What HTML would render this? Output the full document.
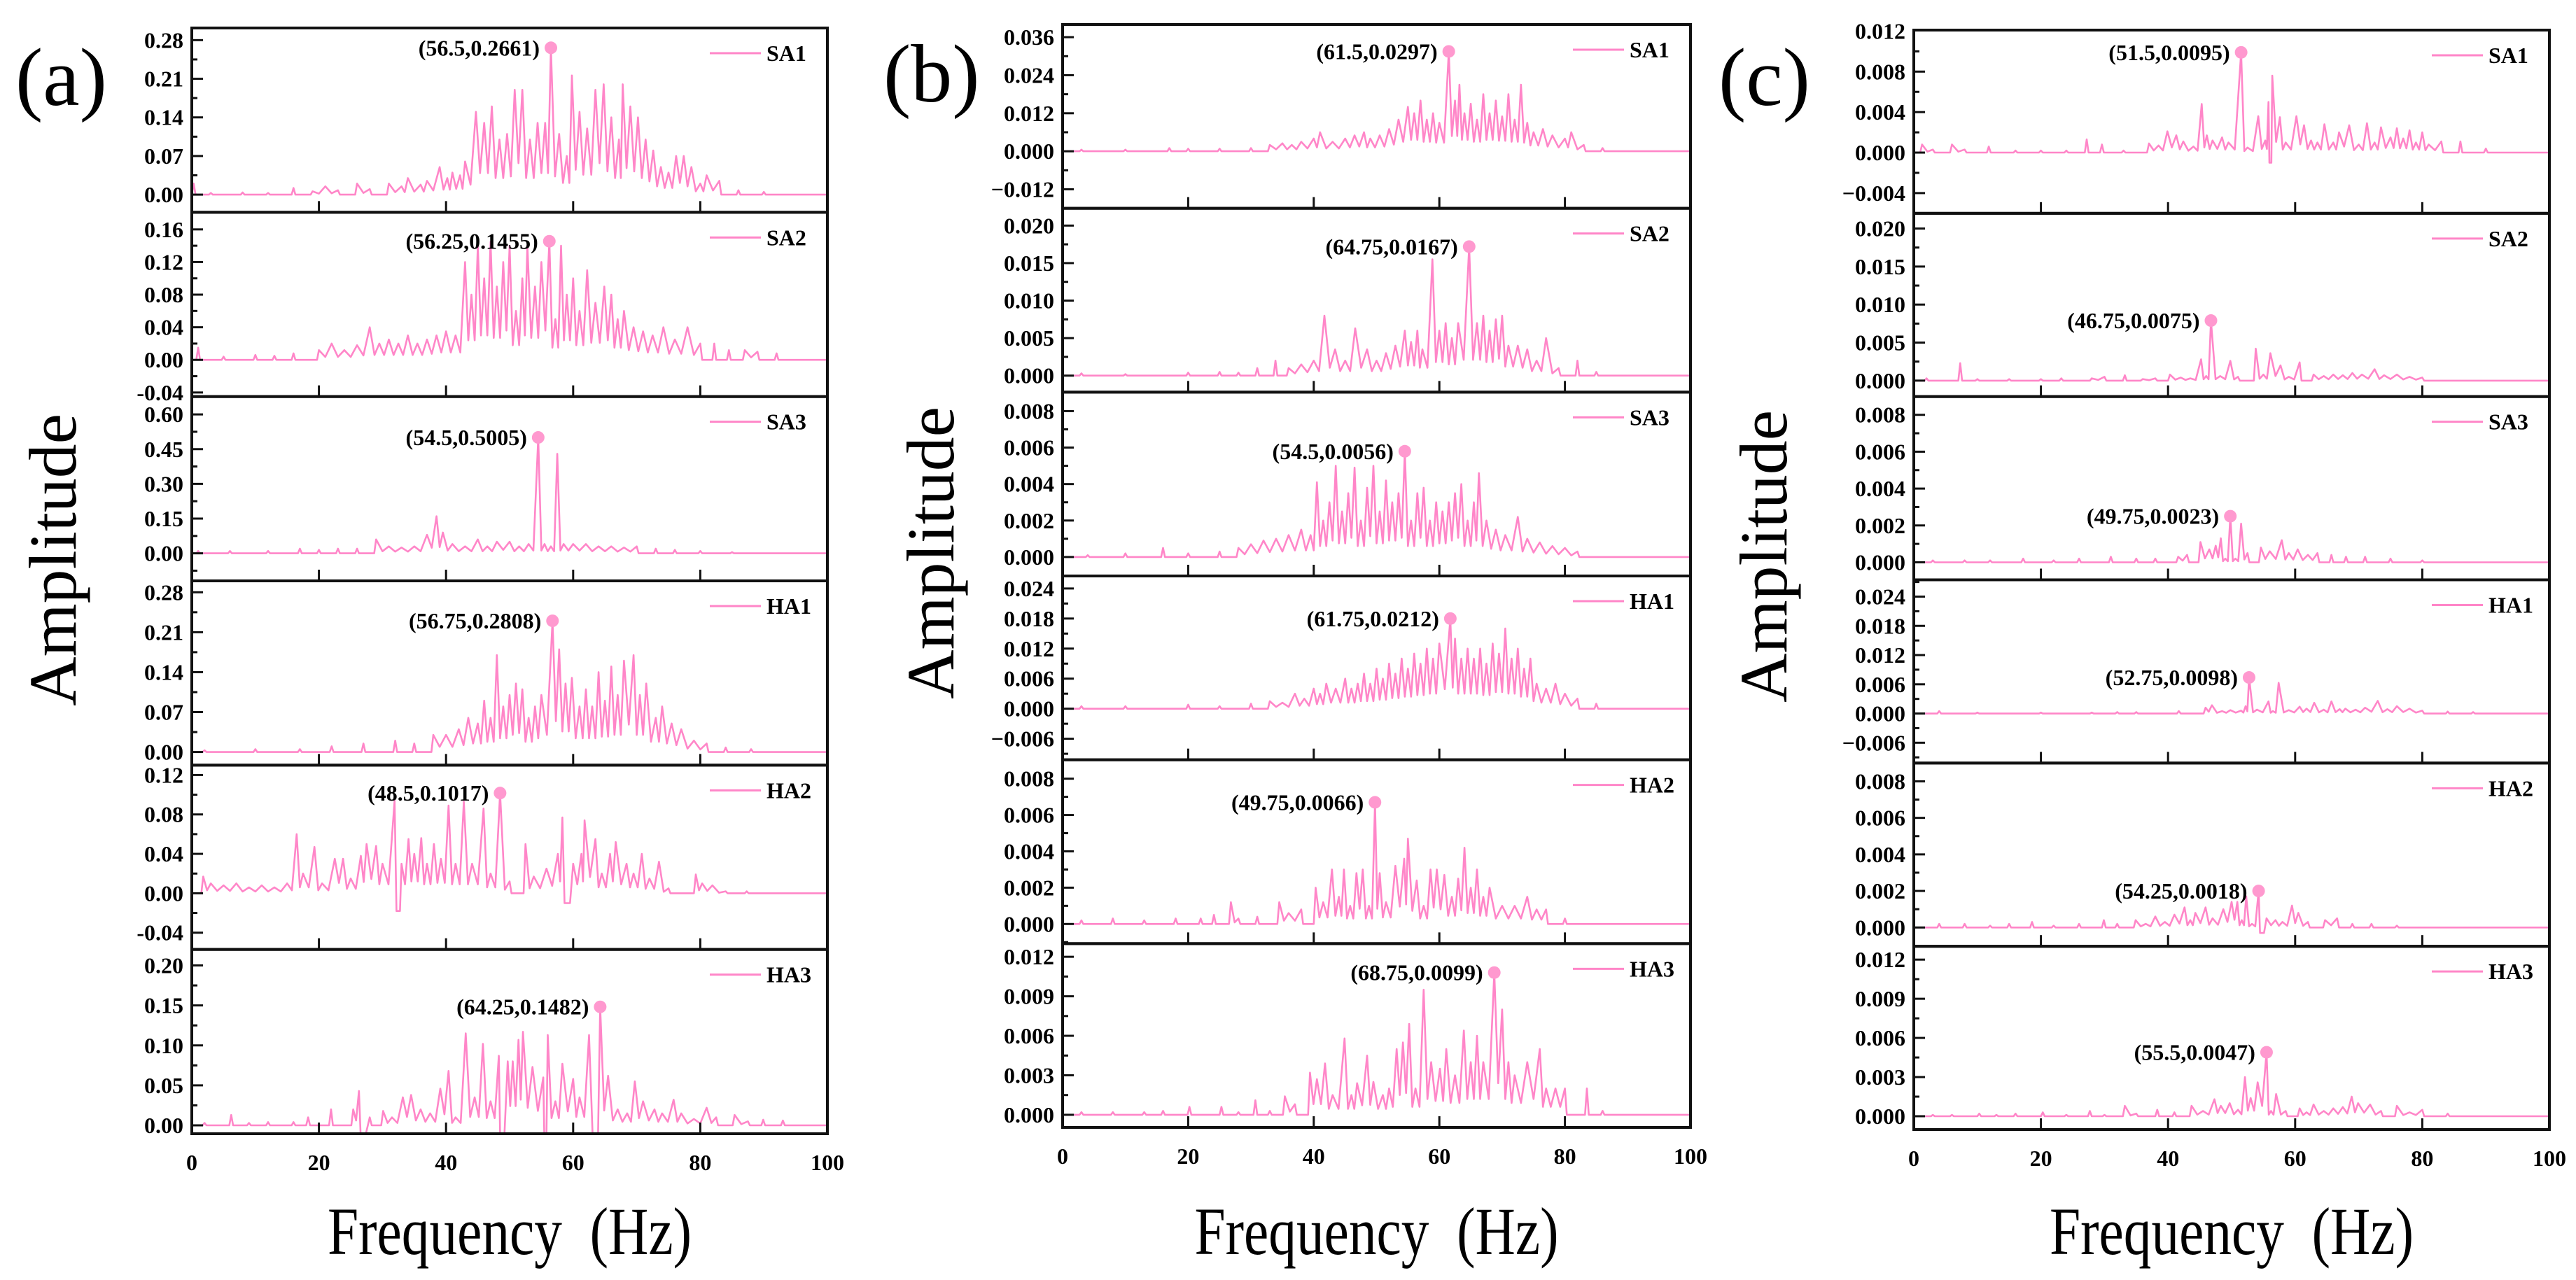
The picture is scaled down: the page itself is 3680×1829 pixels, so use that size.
<!DOCTYPE html>
<html><head><meta charset="utf-8"><title>Frequency spectra</title>
<style>
html,body{margin:0;padding:0;background:#fff;}
svg{display:block;font-family:"Liberation Serif",serif;}
</style></head>
<body>
<svg id="fig" xmlns="http://www.w3.org/2000/svg" width="3680" height="1829" viewBox="0 0 3680 1829"></svg>
<script>
// ---------------- DATA: panel (a) ----------------
const a_SA1 = [[0.3,0.02],[3,0.003],[8,0.004],[12,0.003],[16,0.012],[19,0.006],[21,0.015],[23,0.008],[26,0.02],[28,0.01],[31,0.02],[33,0.015],[34,0.03],[36,0.018],[37,0.025],[39,0.05],[40.2,0.03],[41,0.04],[42.2,0.035],[43,0.06],[44.7,0.15],[46,0.13],[47.2,0.16],[48.4,0.1],[49.6,0.11],[50.8,0.19],[52,0.19],[53.2,0.1],[54.4,0.13],[55.6,0.13],[56.5,0.2661],[57.8,0.11],[59,0.07],[59.8,0.216],[61,0.15],[62.2,0.12],[63.5,0.19],[64.8,0.2],[66,0.14],[67.2,0.1],[67.8,0.2],[69,0.16],[70.2,0.14],[71.4,0.1],[72.6,0.08],[73.8,0.05],[75,0.04],[76.2,0.07],[77.4,0.07],[78.6,0.05],[80,0.02],[81,0.035],[83,0.025],[86,0.008],[90,0.005]];
const a_SA2 = [[1,0.015],[5,0.004],[10,0.006],[13,0.005],[16,0.008],[20,0.012],[22,0.02],[24,0.012],[26,0.018],[28,0.04],[29.5,0.02],[31,0.025],[32.5,0.02],[34,0.03],[35.5,0.02],[37,0.025],[38.5,0.03],[40,0.035],[41.5,0.03],[43,0.12],[44,0.08],[45,0.14],[46,0.1],[47,0.145],[48,0.09],[49,0.12],[50,0.14],[51,0.06],[52,0.1],[52.8,0.14],[54,0.09],[55,0.12],[56.25,0.1455],[57.2,0.05],[58.1,0.14],[59,0.08],[60,0.1],[61,0.06],[62.2,0.11],[63.5,0.07],[64.9,0.09],[66,0.08],[67,0.05],[68,0.06],[69.5,0.04],[71,0.035],[72.5,0.03],[74.2,0.04],[76,0.025],[78,0.04],[80,0.02],[82.2,0.02],[84.5,0.012],[87,0.012],[89,0.01],[92,0.008]];
const a_SA3 = [[1,0.01],[6,0.01],[12,0.01],[17,0.02],[20,0.015],[23,0.02],[26,0.02],[29,0.06],[31,0.03],[33,0.025],[35,0.03],[37,0.08],[38.5,0.16],[39.5,0.09],[41,0.04],[43,0.03],[45,0.06],[46.5,0.03],[48,0.05],[50,0.05],[51.5,0.03],[53,0.04],[54.5,0.5005],[55.5,0.04],[56.5,0.03],[57.5,0.43],[58.5,0.04],[60,0.04],[62,0.04],[64,0.03],[66,0.03],[68,0.025],[70,0.03],[73,0.02],[76,0.015],[80,0.01],[85,0.005]];
const a_HA1 = [[2,0.003],[10,0.005],[17,0.005],[22,0.01],[27,0.015],[32,0.02],[35,0.015],[38,0.03],[40,0.03],[42,0.04],[43.5,0.06],[45,0.05],[46,0.09],[47,0.06],[48,0.17],[49,0.08],[50,0.1],[51,0.12],[52,0.11],[53,0.06],[54,0.08],[55,0.1],[56.75,0.23],[57.8,0.18],[58.8,0.12],[59.8,0.13],[61,0.08],[62,0.11],[63,0.08],[64,0.14],[65,0.09],[66,0.15],[67,0.1],[68,0.16],[69.5,0.17],[70.5,0.1],[71.5,0.12],[73,0.06],[74,0.08],[75.5,0.05],[77,0.04],[79,0.02],[81,0.015],[84,0.008],[88,0.005]];
const a_HA2 = [[1.8,0.017],[3,0.01],[5,0.008],[7,0.01],[9,0.006],[11,0.008],[13,0.006],[15,0.01],[16.5,0.06],[17.5,0.02],[19.3,0.047],[20.5,0.01],[22.5,0.035],[23.8,0.035],[25,0.015],[26.6,0.038],[27.5,0.05],[29,0.048],[30,0.03],[31.9,0.094],[32.5,-0.018],[33,0.03],[34.1,0.055],[35,0.04],[36.1,0.056],[37,0.03],[38.1,0.05],[39.2,0.035],[40.4,0.089],[41.5,0.03],[42.8,0.093],[44.1,0.03],[45.9,0.086],[47,0.02],[48.5,0.1017],[50,0.012],[52.5,0.05],[53.8,0.017],[55.8,0.025],[57.6,0.04],[58.3,0.077],[59,-0.01],[60,0.03],[61.3,0.04],[61.8,0.074],[63.5,0.055],[64.5,0.02],[65.8,0.04],[66.7,0.052],[68.4,0.03],[69.5,0.02],[70.8,0.04],[72,0.015],[73.5,0.032],[75,0.005],[79.3,0.019],[80.3,0.01],[81.9,0.008],[84,0.002],[87.3,0.002]];
const a_HA3 = [[2,0.003],[6.2,0.013],[9,0.003],[12,0.004],[16,0.004],[18.3,0.01],[21.9,0.02],[25.4,0.02],[26.3,0.043],[26.8,-0.01],[28,0.01],[30.1,0.018],[31.5,0.01],[33.2,0.035],[34.5,0.038],[36,0.02],[37.5,0.015],[39.1,0.046],[40.4,0.068],[41.5,0.01],[43.1,0.115],[44.5,0.035],[45.8,0.102],[47,0.03],[48.3,0.087],[48.7,-0.01],[49.7,0.08],[50.5,0.08],[51.4,0.107],[52.1,0.117],[53.6,0.073],[55.3,0.06],[55.6,-0.01],[56,0.113],[57.2,0.03],[58.3,0.077],[60,0.058],[61,0.035],[62.5,0.113],[63.6,-0.01],[64.25,0.1482],[65.5,0.062],[67,0.02],[68.5,0.015],[69.7,0.055],[71,0.03],[72.8,0.02],[74,0.015],[75.8,0.032],[77,0.015],[79,0.008],[81,0.022],[82.5,0.01],[85.4,0.013],[87.5,0.005],[89.9,0.007],[93,0.006]];
const annoFreqA = [56.5, 56.25, 54.5, 56.75, 48.5, 64.25];
const annoAmpA = ["0.2661", "0.1455", "0.5005", "0.2808", "0.1017", "0.1482"];
const ticksA = [[0,0.07,0.14,0.21,0.28],[-0.04,0,0.04,0.08,0.12,0.16],[0,0.15,0.3,0.45,0.6],[0,0.07,0.14,0.21,0.28],[-0.04,0,0.04,0.08,0.12],[0,0.05,0.1,0.15,0.2]];
const rangeA = [[-0.032,0.302],[-0.045,0.181],[-0.119,0.677],[-0.023,0.30],[-0.057,0.13],[-0.0105,0.22]];

// ---------------- DATA: panel (b) ----------------
const b_SA1 = [[3,0.0005],[10,0.0005],[17,0.001],[20,0.0008],[25,0.0008],[30,0.001],[33,0.002],[35,0.0025],[36.5,0.002],[38,0.003],[40,0.004],[41,0.006],[43,0.003],[45,0.004],[46.5,0.005],[48,0.006],[49,0.004],[50.5,0.005],[52,0.007],[53.5,0.01],[55,0.014],[56,0.012],[57,0.016],[58,0.01],[59,0.012],[60,0.009],[61.5,0.0315],[62.5,0.016],[63.2,0.021],[64,0.012],[65,0.015],[66,0.01],[67,0.018],[68,0.012],[69,0.016],[70,0.011],[71,0.018],[72,0.01],[73,0.021],[74,0.009],[75,0.006],[76.5,0.007],[78,0.005],[80,0.004],[81,0.006],[83,0.002],[86,0.001]];
const b_SA2 = [[3,0.0003],[10,0.0002],[20,0.0004],[25,0.0005],[28,0.0004],[31,0.001],[33.9,0.002],[36,0.001],[38,0.0015],[40,0.002],[41.7,0.008],[43.4,0.0035],[45,0.002],[46.6,0.0063],[48.5,0.0035],[50,0.002],[51.5,0.003],[53,0.004],[54.5,0.006],[55.5,0.0045],[56.5,0.006],[57.3,0.0035],[58.9,0.0155],[60,0.006],[61,0.007],[62,0.005],[63,0.007],[64.75,0.0172],[66,0.007],[67,0.008],[68,0.006],[69,0.0075],[70,0.008],[71,0.004],[72.5,0.004],[74,0.0035],[75.5,0.002],[77,0.005],[79,0.001],[82,0.002],[85,0.0005]];
const b_SA3 = [[4,0.0001],[10,0.0002],[16,0.0005],[20,0.0002],[25,0.0003],[28,0.0005],[30,0.0007],[32,0.0009],[34,0.001],[36,0.0012],[38,0.0015],[39.5,0.0012],[40.5,0.0041],[41.5,0.002],[42.5,0.003],[43.5,0.005],[44.5,0.0025],[45.5,0.0035],[46.5,0.0049],[47.5,0.002],[48.5,0.0038],[49.5,0.005],[50.5,0.0025],[51.5,0.0042],[52.5,0.003],[53.5,0.0035],[54.5,0.0058],[55.5,0.002],[56.5,0.0035],[57.5,0.0038],[58.5,0.002],[59.5,0.003],[60.5,0.0025],[61.5,0.003],[62.5,0.0035],[63.5,0.004],[64.5,0.002],[65.5,0.003],[66.3,0.0046],[67.5,0.002],[69,0.0015],[70.5,0.0012],[72.5,0.0022],[74,0.001],[76,0.0008],[78,0.0006],[80,0.0005],[82,0.0003]];
const b_HA1 = [[3,0.0005],[10,0.0005],[20,0.0008],[25,0.0005],[30,0.001],[33,0.0015],[35,0.0012],[37,0.003],[38.5,0.002],[40,0.004],[41,0.003],[42,0.005],[43.5,0.004],[45,0.006],[46,0.004],[47,0.005],[48,0.007],[49,0.005],[50,0.008],[51,0.006],[52,0.009],[53,0.007],[54,0.01],[55,0.008],[56,0.011],[57,0.009],[58,0.012],[59,0.01],[60,0.013],[61.75,0.018],[62.5,0.014],[63.5,0.01],[64.5,0.012],[65.5,0.01],[66.5,0.012],[67.5,0.009],[68.5,0.013],[69.5,0.011],[70.5,0.016],[71.5,0.01],[72.5,0.012],[73.5,0.008],[74.5,0.01],[75.5,0.005],[77,0.004],[78.5,0.005],[80,0.003],[82,0.002],[85,0.001]];
const b_HA2 = [[3,0.0002],[8,0.0003],[13,0.0002],[18,0.0003],[22,0.0003],[24.1,0.0005],[26.8,0.0012],[28,0.0003],[31,0.0004],[34.5,0.0012],[36,0.0006],[38,0.0008],[40.3,0.002],[41.5,0.0012],[42.9,0.003],[44,0.0015],[44.8,0.003],[45.8,0.001],[46.8,0.0028],[47.8,0.003],[48.8,0.001],[49.75,0.0067],[50.5,0.0028],[51.5,0.0012],[53,0.0032],[54.4,0.0036],[55,0.0047],[56.4,0.0024],[57.5,0.001],[58.6,0.003],[59.6,0.003],[60.8,0.0027],[62,0.0015],[63,0.0025],[64,0.0042],[65,0.002],[66,0.003],[67,0.0015],[68,0.002],[70,0.001],[72,0.001],[74,0.0015],[75.5,0.0008],[77,0.0008],[80,0.0003]];
const b_HA3 = [[3,0.0002],[8,0.0002],[13,0.0002],[16,0.0003],[20.2,0.0006],[25.3,0.0006],[28,0.0002],[30.7,0.0011],[33,0.0003],[35.4,0.0014],[37,0.0008],[39.4,0.0032],[40.5,0.0027],[41.8,0.0039],[43,0.0015],[44.9,0.0058],[46,0.0015],[46.9,0.0024],[48.5,0.0045],[49.5,0.0025],[51,0.0015],[52,0.002],[53.2,0.005],[54.2,0.0055],[55.2,0.0069],[56.2,0.002],[57.5,0.0095],[58.7,0.004],[60.1,0.0035],[61.1,0.005],[62.5,0.003],[63.9,0.0064],[65,0.004],[66,0.006],[67,0.004],[68.75,0.0108],[70,0.008],[71,0.004],[72,0.003],[74,0.004],[76,0.005],[77,0.002],[78.5,0.002],[80,0.002],[83.5,0.002],[86,0.0003]];
const annoFreqB = [61.5, 64.75, 54.5, 61.75, 49.75, 68.75];
const annoAmpB = ["0.0297", "0.0167", "0.0056", "0.0212", "0.0066", "0.0099"];
const ticksB = [[-0.012,0,0.012,0.024,0.036],[0,0.005,0.01,0.015,0.02],[0,0.002,0.004,0.006,0.008],[-0.006,0,0.006,0.012,0.018,0.024],[0,0.002,0.004,0.006,0.008],[0,0.003,0.006,0.009,0.012]];
const rangeB = [[-0.018,0.040],[-0.0022,0.0223],[-0.00104,0.00904],[-0.0102,0.0265],[-0.00108,0.00904],[-0.00096,0.0130]];

// ---------------- DATA: panel (c) ----------------
const c_SA1 = [[1.3,0.0008],[3,0.0003],[6,0.0008],[8,0.0003],[11.8,0.0006],[16,0.0002],[20,0.0002],[24,0.0002],[27.2,0.0013],[29.6,0.0008],[33,0.0002],[37,0.0009],[38.5,0.0007],[39.9,0.0021],[41.3,0.0017],[42.4,0.0011],[44,0.0006],[45.3,0.0048],[46.1,0.0017],[47,0.0012],[48.5,0.0015],[49.5,0.001],[51.5,0.0099],[52.5,0.0005],[54.2,0.0036],[55.3,0.0012],[55.8,0.005],[56.1,-0.001],[56.4,0.0076],[57.6,0.0035],[58.5,0.001],[60.2,0.0036],[61.4,0.0027],[62.5,0.0012],[63.5,0.001],[64.6,0.0028],[66,0.001],[66.9,0.002],[68.5,0.0027],[70,0.0008],[71.3,0.0029],[72.5,0.001],[73.5,0.0025],[75,0.0015],[76,0.0024],[77,0.0014],[78,0.0022],[79,0.001],[80,0.002],[81,0.0008],[83,0.0011],[86,0.0011],[90,0.0004]];
const c_SA2 = [[2,0.0003],[7.3,0.0023],[10,0.0002],[15,0.0002],[20,0.0002],[23.2,0.0003],[28,0.0003],[30,0.0005],[33.2,0.0007],[36,0.0002],[38,0.0003],[40.3,0.0008],[42,0.0004],[43.5,0.0003],[45.2,0.0028],[46,0.0006],[46.75,0.0079],[48.2,0.0006],[49.8,0.0026],[51,0.0005],[53.8,0.0042],[55,0.0008],[56.1,0.0036],[57.7,0.002],[59,0.0005],[60.7,0.0024],[62.9,0.0008],[64.5,0.0006],[66,0.0008],[67.5,0.0007],[69,0.001],[70.5,0.0008],[72.5,0.0015],[74,0.0007],[76,0.0008],[78,0.0005],[80,0.0004]];
const c_SA3 = [[3,0.0001],[8,0.0001],[12,0.0001],[17.2,0.0002],[22,0.0001],[26,0.0002],[31,0.0003],[35,0.0002],[38,0.0002],[41.6,0.0003],[43,0.0004],[45.1,0.0011],[46.5,0.0007],[47.5,0.0009],[48.3,0.0013],[49,0.0002],[49.8,0.0025],[50.6,0.0002],[51.5,0.0021],[52.5,0.0005],[54.6,0.0008],[56,0.0006],[57.9,0.0012],[59,0.0005],[60.4,0.0007],[62,0.0004],[63.5,0.0005],[65.7,0.0004],[68,0.0003],[71,0.0003],[75,0.0002],[80,0.0001]];
const c_HA1 = [[4,0.0005],[10,0.0002],[20,0.0002],[28,0.0002],[32,0.0003],[35,0.0003],[41.7,0.0005],[45.9,0.0012],[46.9,0.0017],[48.5,0.0005],[49.8,0.0007],[51.5,0.0006],[52.2,0.0015],[52.75,0.0074],[54,0.0008],[55.8,0.0025],[56.5,0.0005],[57.4,0.0063],[59,0.0007],[60.7,0.0014],[61.8,0.001],[63,0.0022],[64.5,0.0008],[65.7,0.0025],[67,0.0009],[67.9,0.001],[69.5,0.0008],[71,0.0012],[73,0.0026],[74.5,0.0009],[76,0.0015],[78,0.001],[80,0.0006],[84,0.0004],[88,0.0003]];
const c_HA2 = [[4,0.0002],[8,0.0002],[12,0.0001],[15,0.0002],[18.6,0.0003],[22,0.0001],[26,0.0002],[29.9,0.0004],[32,0.0002],[34.9,0.0004],[36.5,0.0002],[38,0.0006],[39.5,0.0003],[41,0.0007],[42.6,0.0011],[43.5,0.0004],[44.3,0.0008],[45.9,0.0011],[47,0.0005],[48.7,0.001],[50,0.0014],[50.9,0.0014],[51.6,0.0004],[52.3,0.0017],[53.2,0.0002],[54.25,0.002],[54.7,-0.0003],[55.5,0.0005],[56.9,0.0004],[58,0.0003],[59.5,0.0012],[60.5,0.0008],[62,0.0003],[64.7,0.0004],[66.6,0.0005],[69,0.0002],[72,0.0002],[76,0.0001]];
const c_HA3 = [[3,0.0001],[6,0.0001],[10.3,0.0002],[13,0.0001],[16,0.0002],[20.3,0.0003],[24,0.0001],[27.7,0.0004],[30,0.0001],[33.2,0.0008],[35,0.0002],[38.3,0.0005],[41,0.0003],[43.7,0.0008],[45.5,0.0004],[47.3,0.0013],[48.3,0.0008],[49.7,0.001],[51,0.0005],[52.1,0.003],[53,0.0014],[54.1,0.0026],[55.5,0.0049],[56.2,0.0004],[57,0.0017],[58.5,0.0004],[60.7,0.0006],[61.8,0.0003],[62.9,0.0009],[64.5,0.0004],[66,0.0006],[67.5,0.0007],[68.9,0.0015],[69.9,0.001],[71.8,0.0009],[73.5,0.0004],[76,0.0008],[78,0.0003],[80,0.0005],[84,0.0002]];
const annoFreqC = [51.5, 46.75, 49.75, 52.75, 54.25, 55.5];
const annoAmpC = ["0.0095", "0.0075", "0.0023", "0.0098", "0.0018", "0.0047"];
const ticksC = [[-0.004,0,0.004,0.008,0.012],[0,0.005,0.01,0.015,0.02],[0,0.002,0.004,0.006,0.008],[-0.006,0,0.006,0.012,0.018,0.024],[0,0.002,0.004,0.006,0.008],[0,0.003,0.006,0.009,0.012]];
const rangeC = [[-0.006,0.0121],[-0.0021,0.022],[-0.00095,0.00899],[-0.01017,0.02745],[-0.00103,0.009],[-0.00102,0.01302]];

const seriesNames = ["SA1","SA2","SA3","HA1","HA2","HA3"];
const xTicks = [0,20,40,60,80,100];

// ---------------- RENDER ----------------
const NS = "http://www.w3.org/2000/svg";
const svg = document.getElementById("fig");
const PINK = "#ff86c8";
function mk(tag, attrs, parent){
  const e = document.createElementNS(NS, tag);
  for (const k in attrs) e.setAttribute(k, attrs[k]);
  (parent||svg).appendChild(e);
  return e;
}
const panels = [
  {id:"a", left:274, right:1182, top:40, bottom:1620, series:[a_SA1,a_SA2,a_SA3,a_HA1,a_HA2,a_HA3], annoF:annoFreqA, annoA:annoAmpA, ticks:ticksA, ranges:rangeA, dec:2, minus:"-", labelX:22, labelY:150, ampX:108, ampY:800},
  {id:"b", left:1518, right:2415, top:35, bottom:1611, series:[b_SA1,b_SA2,b_SA3,b_HA1,b_HA2,b_HA3], annoF:annoFreqB, annoA:annoAmpB, ticks:ticksB, ranges:rangeB, dec:3, minus:"\u2212", labelX:1262, labelY:145, ampX:1362, ampY:790},
  {id:"c", left:2734, right:3642, top:43, bottom:1614, series:[c_SA1,c_SA2,c_SA3,c_HA1,c_HA2,c_HA3], annoF:annoFreqC, annoA:annoAmpC, ticks:ticksC, ranges:rangeC, dec:3, minus:"\u2212", labelX:2455, labelY:150, ampX:2552, ampY:795}
];
const GAP = 2.1;

panels.forEach(P=>{
  const g = mk("g", {});
  
  
  const lab = mk("text", {x:P.labelX, y:P.labelY, "font-size":118}, g);
  lab.textContent = "(" + P.id + ")";
  
  
  const amp = mk("text", {x:0, y:0, "font-size":96, "text-anchor":"middle", transform:`translate(${P.ampX},${P.ampY}) rotate(-90)`, textLength:418, lengthAdjust:"spacingAndGlyphs"}, g);
  amp.textContent = "Amplitude";
  
  
  const fr = mk("text", {x:(P.left+P.right)/2, y:1792, "font-size":96, "text-anchor":"middle", textLength:520, lengthAdjust:"spacingAndGlyphs"}, g);
  fr.textContent = "Frequency\u00a0\u00a0(Hz)";
  
  

  const W = P.right - P.left;
  const rowH = (P.bottom - P.top) / 6;
  const xs = f => P.left + f / 100 * W;
  xTicks.forEach(t=>{
    const tl = mk("text", {x:xs(t), y:P.bottom+52, "font-size":32, "font-weight":"bold", "text-anchor":"middle"}, g);
    tl.textContent = String(t);
    
    
  });

  for (let r=0; r<6; r++){
    const top = P.top + r*rowH, bot = top + rowH;
    const [ymin, ymax] = P.ranges[r];
    const ys = v => bot - (v - ymin) / (ymax - ymin) * rowH;
    const sg = mk("g", {}, g);
    
    
    const cid = "clip" + P.id + r;
    const cp = mk("clipPath", {id:cid}, sg);
    mk("rect", {x:P.left, y:top, width:W, height:rowH}, cp);
    const data = P.series[r];
    const pts = [[0,0]];
    for (let i=0;i<data.length;i++){
      const f = data[i][0], a = data[i][1];
      const prev = i>0 ? data[i-1] : null;
      const next = i<data.length-1 ? data[i+1] : null;
      const closePrev = prev && (f-prev[0]) < GAP;
      if (!closePrev) pts.push([f-0.3, 0]);
      pts.push([f, a]);
      if (next && (next[0]-f) < GAP){
        const lo = Math.min(a, next[1]);
        pts.push([(f+next[0])/2, lo > 0 ? 0.3*lo : lo]);
      } else {
        pts.push([f+0.3, 0]);
      }
    }
    pts.push([100,0]);
    const d = pts.map((p,i)=>(i?"L":"M")+xs(p[0]).toFixed(1)+","+ys(p[1]).toFixed(1)).join("");
    const line = mk("path", {d:d, fill:"none", stroke:PINK, "stroke-width":2.6, "stroke-linejoin":"round", "clip-path":`url(#${cid})`}, sg);
    
    
    const tks = P.ticks[r];
    const step = tks[1]-tks[0];
    for (let v = tks[0]-step/2; v <= ymax; v += step/2){
      const y = ys(v);
      if (y < top+2 || y > bot-2) continue;
      const isMajor = tks.some(t=>Math.abs(t-v) < step*0.01);
      mk("line", {x1:P.left, x2:P.left + (isMajor?16:8), y1:y, y2:y, stroke:"#111", "stroke-width":3}, sg);
    }
    tks.forEach(t=>{
      const lbl = mk("text", {x:P.left-12, y:ys(t)+11, "font-size":32, "font-weight":"bold", "text-anchor":"end"}, sg);
      lbl.textContent = (t<0 ? P.minus : "") + Math.abs(t).toFixed(P.dec);
      
      
    });
    xTicks.slice(1,5).forEach(t=>{
      mk("line", {x1:xs(t), x2:xs(t), y1:bot, y2:bot-16, stroke:"#111", "stroke-width":3}, sg);
    });
    const fr2 = mk("rect", {x:P.left, y:top, width:W, height:rowH, fill:"none", stroke:"#111", "stroke-width":4}, sg);
    
    
    const ly = top + 36;
    const lg = mk("g", {}, sg);
    
    
    mk("line", {x1:P.right-168, x2:P.right-95, y1:ly, y2:ly, stroke:PINK, "stroke-width":3}, lg);
    const lt = mk("text", {x:P.right-87, y:ly+11, "font-size":32, "font-weight":"bold"}, lg);
    lt.textContent = seriesNames[r];
    const af = P.annoF[r];
    let best = data[0];
    data.forEach(p=>{ if (Math.abs(p[0]-af) < Math.abs(best[0]-af)) best = p; });
    const dx = xs(best[0]), dy = ys(best[1]);
    const dot = mk("circle", {cx:dx, cy:dy, r:9, fill:"#ff99cf"}, sg);
    
    
    const at = mk("text", {x:dx-16, y:dy+11, "font-size":32, "font-weight":"bold", "text-anchor":"end"}, sg);
    at.textContent = "(" + af + "," + P.annoA[r] + ")";
    
    
  }
});
</script>
</body></html>
